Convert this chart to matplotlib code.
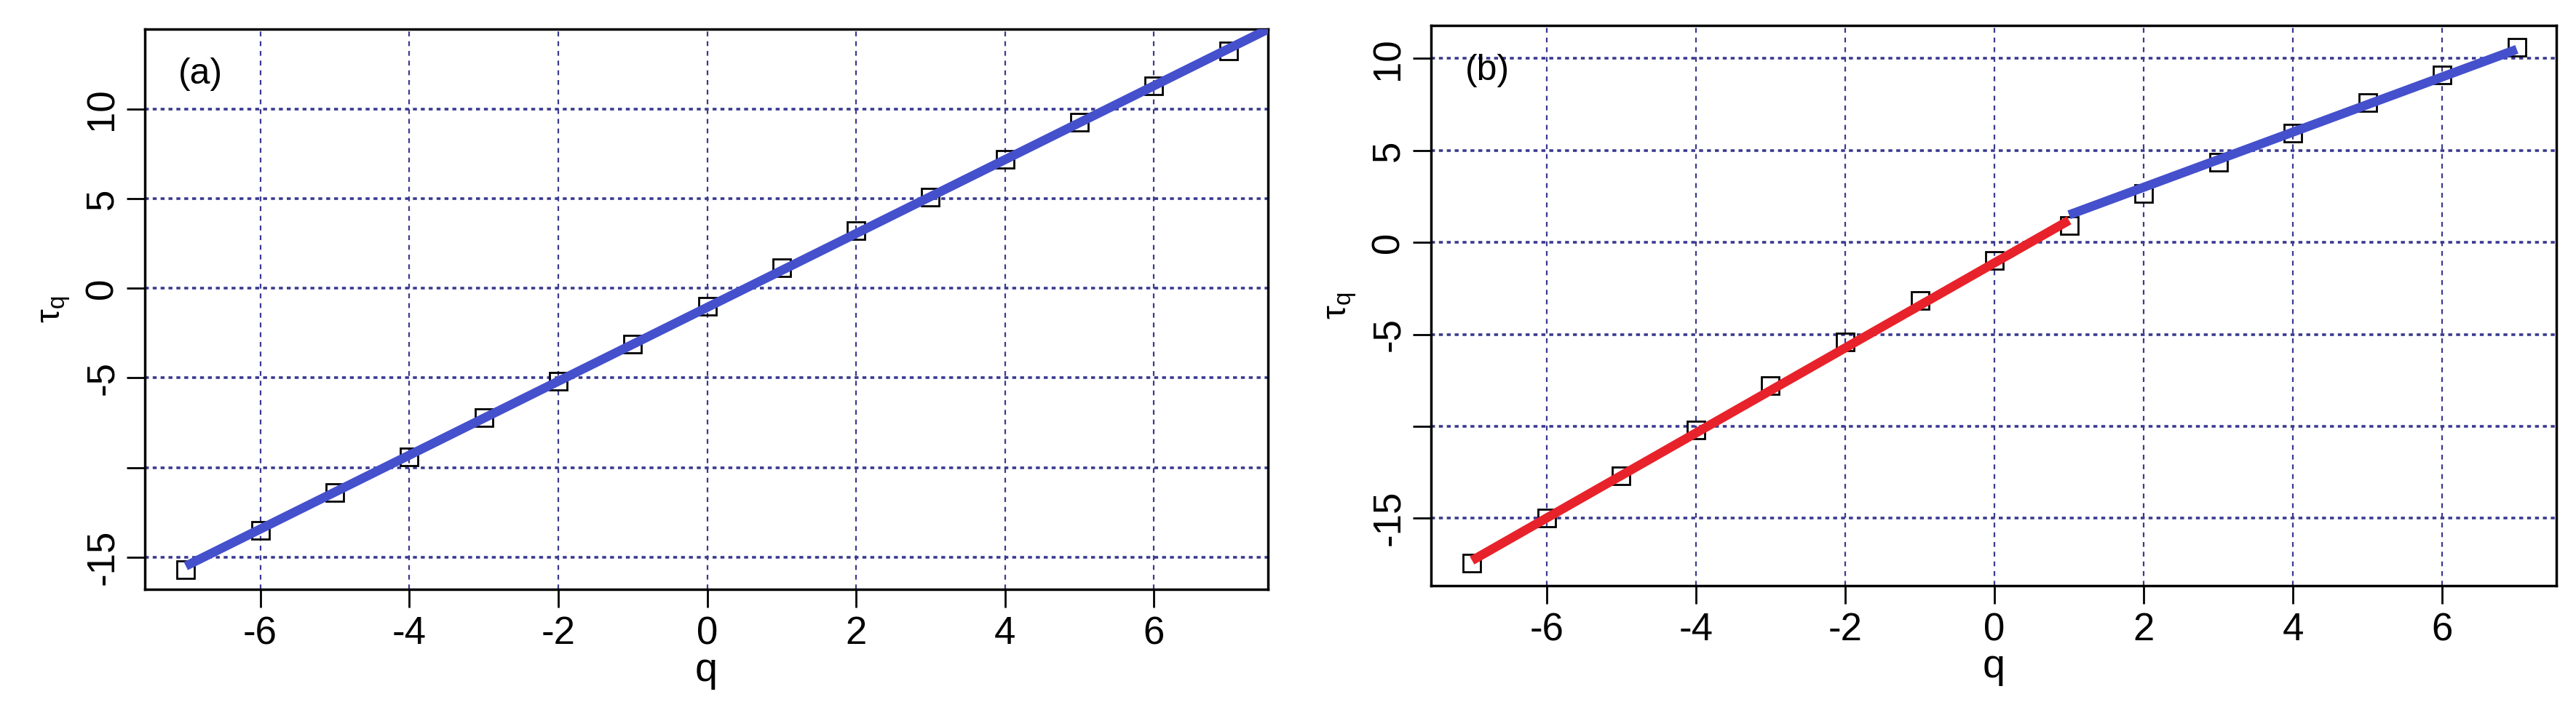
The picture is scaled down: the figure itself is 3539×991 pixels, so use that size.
import matplotlib
matplotlib.use("Agg")
import matplotlib.pyplot as plt
import numpy as np

plt.rcParams['font.family'] = ['Liberation Sans', 'DejaVu Sans']
plt.rcParams['mathtext.fontset'] = 'custom'
plt.rcParams['mathtext.rm'] = 'Liberation Sans'

q = [-7, -6, -5, -4, -3, -2, -1, 0, 1, 2, 3, 4, 5, 6, 7]
tau_a = [-15.7, -13.5, -11.4, -9.4, -7.2, -5.2, -3.1, -1.0, 1.13, 3.2, 5.1, 7.2, 9.25, 11.3, 13.25]
tau_b = [-17.45, -15.0, -12.7, -10.2, -7.8, -5.4, -3.14, -1.0, 0.93, 2.64, 4.35, 5.95, 7.6, 9.1, 10.6]
fit_a_q = [-7, 7.6]
fit_a_tau = [-15.5, 14.6]
fit_b_red_q = [-7, 1]
fit_b_red_tau = [-17.3, 1.2]
fit_b_blue_q = [1, 7]
fit_b_blue_tau = [1.5, 10.5]
yticks = [-15, -10, -5, 0, 5, 10]
yticklabels = ['-15', '', '-5', '0', '5', '10']
xticks = [-6, -4, -2, 0, 2, 4, 6]

W, H = 3539, 991
fig = plt.figure(figsize=(W/100, H/100), dpi=100)
blue = '#4450CC'
red = '#E8222A'
grid_c = '#3A3A90'

def setup(ax, ylim, label):
    ax.set_xlim(-7.55, 7.53)
    ax.set_ylim(*ylim)
    ax.set_xticks(xticks)
    ax.set_xticklabels([str(x) for x in xticks])
    ax.set_yticks(yticks)
    ax.set_yticklabels(yticklabels, rotation=90, va='center')
    ax.tick_params(axis='both', labelsize=38, length=18, width=2, direction='out')
    ax.tick_params(axis='x', pad=8)
    ax.tick_params(axis='y', pad=6)
    for t in xticks:
        ax.axvline(t, color=grid_c, ls=(0, (3, 3)), lw=1.6, zorder=0)
    for t in yticks:
        ax.axhline(t, color=grid_c, ls=(0, (1.5, 1.5)), lw=2.6, zorder=0)
    for s in ax.spines.values():
        s.set_linewidth(2.5)
    ax.set_xlabel('q', fontsize=40, labelpad=0)
    ax.set_ylabel(r'$\mathrm{\tau_q}$', fontsize=34, labelpad=12)
    ax.text(0.03, 0.92, label, transform=ax.transAxes, fontsize=36, va='center', ha='left')

ax1 = fig.add_axes([199/W, 1-810/H, (1742-199)/W, (810-40)/H])
setup(ax1, (-16.8, 14.46), '(a)')
ax1.plot(q, tau_a, 's', ms=17, mfc='none', mec='black', mew=2, zorder=2)
ax1.plot(fit_a_q, fit_a_tau, color=blue, lw=9, solid_capstyle='butt', zorder=3)

ax2 = fig.add_axes([1966/W, 1-805/H, (3512-1966)/W, (805-35)/H])
setup(ax2, (-18.67, 11.8), '(b)')
ax2.plot(q, tau_b, 's', ms=17, mfc='none', mec='black', mew=2, zorder=2)
ax2.plot(fit_b_red_q, fit_b_red_tau, color=red, lw=9, solid_capstyle='butt', zorder=3)
ax2.plot(fit_b_blue_q, fit_b_blue_tau, color=blue, lw=9, solid_capstyle='butt', zorder=3)

fig.savefig('out.png', dpi=100)
